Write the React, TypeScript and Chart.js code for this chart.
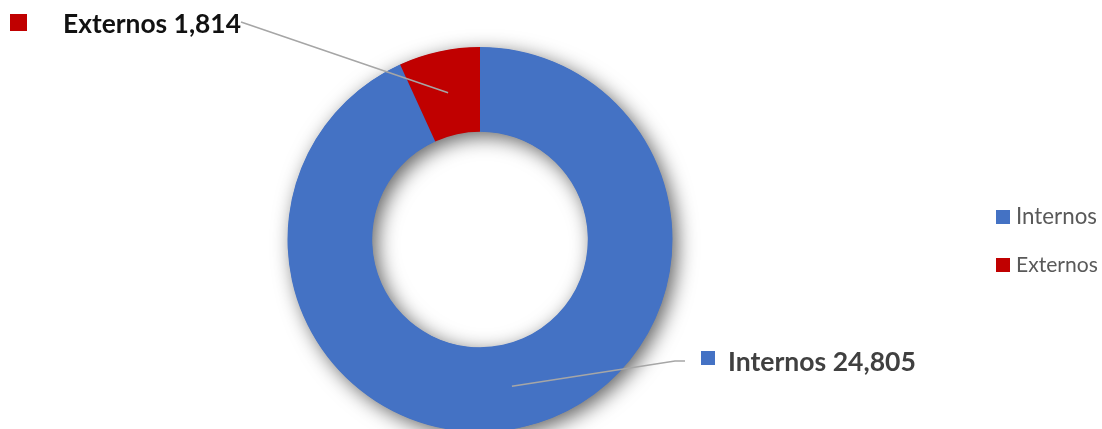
import React, { useEffect, useRef } from "react";
import { Chart, registerables } from "chart.js";

Chart.register(...registerables);

const categories: string[] = ["Internos", "Externos"];
const values: number[] = [24805, 1814];
const colors: string[] = ["#4472C4", "#C00000"];

const FONT = "Lato, 'Open Sans', sans-serif";

function fitSize(ctx: CanvasRenderingContext2D, text: string, weight: string, width: number) {
  ctx.font = `${weight} 100px ${FONT}`;
  const w = ctx.measureText(text).width;
  return (100 * width) / w;
}

export default function App() {
  const ref = useRef<HTMLCanvasElement>(null);

  useEffect(() => {
    const canvas = ref.current!;

    const shadowPlugin = {
      id: "ringShadow",
      beforeDatasetsDraw(chart: any) {
        const arc = chart.getDatasetMeta(0).data[0];
        if (!arc) return;
        const { x, y, outerRadius, innerRadius } = arc.getProps(["x", "y", "outerRadius", "innerRadius"], true);
        const ctx: CanvasRenderingContext2D = chart.ctx;
        ctx.save();
        ctx.beginPath();
        ctx.arc(x, y, outerRadius - 0.5, 0, Math.PI * 2);
        ctx.moveTo(x + innerRadius + 0.5, y);
        ctx.arc(x, y, innerRadius + 0.5, 0, Math.PI * 2);
        ctx.shadowColor = "rgba(0,0,0,0.62)";
        ctx.shadowBlur = 20;
        ctx.shadowOffsetX = 5;
        ctx.shadowOffsetY = 5;
        ctx.fillStyle = colors[0];
        ctx.fill("evenodd");
        ctx.restore();
      },
    };

    // label layout (positions of data-label boxes)
    const labelLayout = [
      { elbow: [675, 361], end: [685, 361], marker: [701, 351, 14], textX: 728, base: 370.5, width: 188, color: "#404040" },
      { elbow: null, end: [241, 22], marker: [10, 14, 17], textX: 63, base: 33, width: 178, color: "#111111" },
    ];
    const legendLayout = [
      { marker: [996, 210, 14], textX: 1016, base: 223.5, width: 81 },
      { marker: [996, 258, 14], textX: 1016, base: 271.5, width: 82 },
    ];

    const labelPlugin = {
      id: "labels",
      afterDraw(chart: any) {
        const ctx: CanvasRenderingContext2D = chart.ctx;
        const meta = chart.getDatasetMeta(0);
        ctx.save();
        meta.data.forEach((el: any, i: number) => {
          const L = labelLayout[i];
          const p = el.tooltipPosition(true);
          ctx.beginPath();
          ctx.moveTo(p.x, p.y);
          if (L.elbow) ctx.lineTo(L.elbow[0], L.elbow[1]);
          ctx.lineTo(L.end[0], L.end[1]);
          ctx.strokeStyle = "#A6A6A6";
          ctx.lineWidth = 1.5;
          ctx.stroke();
          ctx.fillStyle = colors[i];
          ctx.fillRect(L.marker[0], L.marker[1], L.marker[2], L.marker[2]);
          const text = `${categories[i]} ${values[i].toLocaleString("en-US")}`;
          const size = fitSize(ctx, text, "bold", L.width);
          ctx.font = `bold ${size}px ${FONT}`;
          ctx.fillStyle = L.color;
          ctx.textBaseline = "alphabetic";
          ctx.textAlign = "left";
          ctx.fillText(text, L.textX, L.base);
        });
        categories.forEach((c, i) => {
          const G = legendLayout[i];
          ctx.fillStyle = colors[i];
          ctx.fillRect(G.marker[0], G.marker[1], G.marker[2], G.marker[2]);
          const size = fitSize(ctx, c, "normal", G.width);
          ctx.font = `normal ${size}px ${FONT}`;
          ctx.fillStyle = "#595959";
          ctx.textBaseline = "alphabetic";
          ctx.textAlign = "left";
          ctx.fillText(c, G.textX, G.base);
        });
        ctx.restore();
      },
    };

    const chart = new Chart(canvas, {
      type: "doughnut",
      data: {
        labels: categories,
        datasets: [
          {
            data: values,
            backgroundColor: colors,
            borderWidth: 0,
            clip: false as any,
          },
        ],
      },
      options: {
        responsive: false,
        animation: false,
        devicePixelRatio: 1,
        cutout: "56%",
        radius: 192.5,
        layout: { padding: { left: 0, right: 142, top: 50, bottom: 0 } },
        plugins: {
          legend: { display: false },
          tooltip: { enabled: false },
        },
      },
      plugins: [shadowPlugin, labelPlugin],
    });

    return () => chart.destroy();
  }, []);

  return (
    <div style={{ position: "absolute", left: 0, top: 0, width: 1102, height: 429, background: "#ffffff" }}>
      <canvas ref={ref} width={1102} height={429} style={{ display: "block", width: 1102, height: 429 }} />
    </div>
  );
}
